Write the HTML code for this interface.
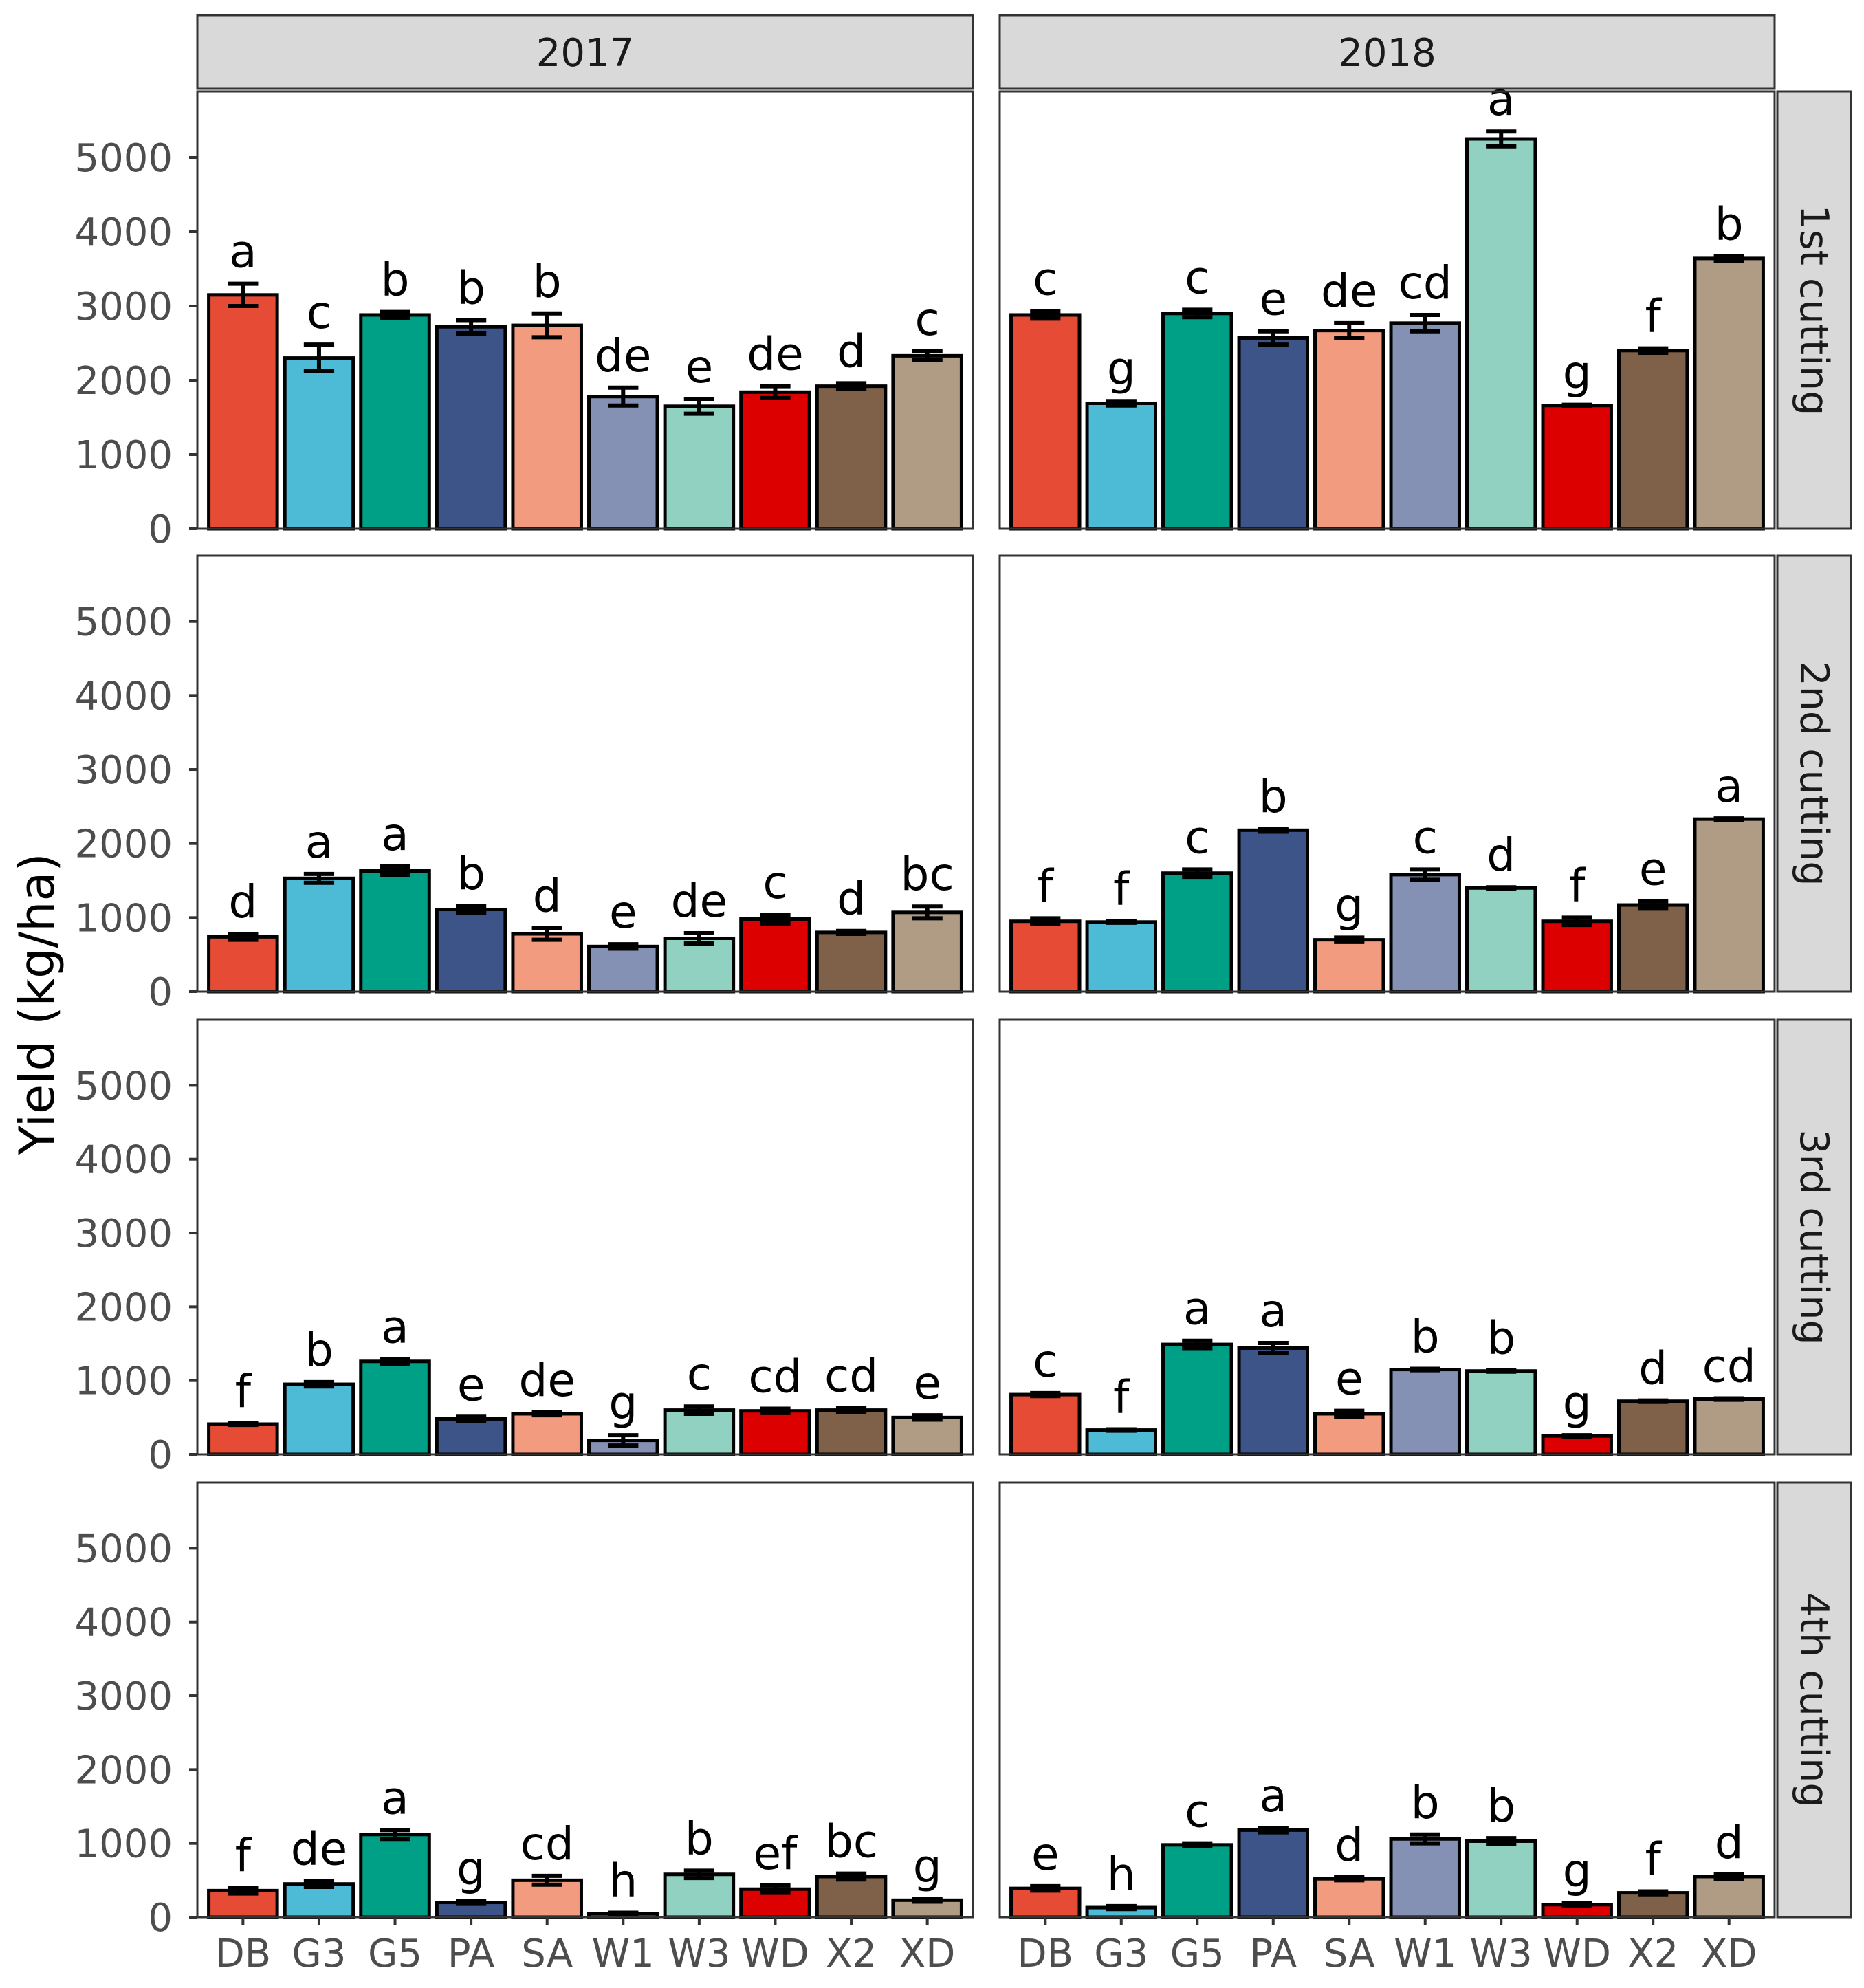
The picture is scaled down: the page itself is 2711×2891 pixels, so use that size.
<!DOCTYPE html>
<html><head><meta charset="utf-8"><style>
html,body{margin:0;padding:0;background:#fff}
svg{display:block;font-family:"DejaVu Sans","Liberation Sans",sans-serif}
</style></head><body>
<svg id="chart" width="2711" height="2891" viewBox="0 0 2711 2891" xmlns="http://www.w3.org/2000/svg"></svg>
<script>
const categories = ["DB","G3","G5","PA","SA","W1","W3","WD","X2","XD"];
const colors = ["#E64B35","#4DBBD5","#00A087","#3C5488","#F39B7F","#8491B4","#91D1C2","#DC0000","#7E6148","#B09C85"];
const years = ["2017","2018"];
const cuttings = ["1st cutting","2nd cutting","3rd cutting","4th cutting"];
const yTicks = [0,1000,2000,3000,4000,5000];
const c1y2017 = [3150,2300,2880,2720,2740,1780,1650,1840,1920,2330];
const c1y2017se = [150,180,40,90,160,120,100,80,40,60];
const c1y2017lt = ["a","c","b","b","b","de","e","de","d","c"];
const c1y2018 = [2880,1690,2900,2570,2670,2770,5250,1660,2400,3640];
const c1y2018se = [50,30,50,90,100,110,100,10,30,30];
const c1y2018lt = ["c","g","c","e","de","cd","a","g","f","b"];
const c2y2017 = [740,1530,1630,1110,780,610,720,980,800,1070];
const c2y2017se = [40,60,60,50,80,30,70,60,20,80];
const c2y2017lt = ["d","a","a","b","d","e","de","c","d","bc"];
const c2y2018 = [950,940,1600,2180,700,1580,1400,950,1170,2330];
const c2y2018se = [40,10,50,20,30,70,10,50,50,10];
const c2y2018lt = ["f","f","c","b","g","c","d","f","e","a"];
const c3y2017 = [410,950,1260,480,550,190,600,590,600,500];
const c3y2017se = [10,30,30,30,20,70,50,30,30,30];
const c3y2017lt = ["f","b","a","e","de","g","c","cd","cd","e"];
const c3y2018 = [810,330,1490,1440,550,1150,1130,250,720,750];
const c3y2018se = [20,10,50,70,40,10,10,10,10,10];
const c3y2018lt = ["c","f","a","a","e","b","b","g","d","cd"];
const c4y2017 = [360,450,1120,200,500,50,580,380,550,230];
const c4y2017se = [40,40,60,20,60,10,50,50,40,20];
const c4y2017lt = ["f","de","a","g","cd","h","b","ef","bc","g"];
const c4y2018 = [390,130,980,1180,520,1060,1030,170,330,550];
const c4y2018se = [30,20,20,30,20,60,40,20,20,30];
const c4y2018lt = ["e","h","c","a","d","b","b","g","f","d"];
const means = [[c1y2017,c1y2018],[c2y2017,c2y2018],[c3y2017,c3y2018],[c4y2017,c4y2018]];
const ses = [[c1y2017se,c1y2018se],[c2y2017se,c2y2018se],[c3y2017se,c3y2018se],[c4y2017se,c4y2018se]];
const letters = [[c1y2017lt,c1y2018lt],[c2y2017lt,c2y2018lt],[c3y2017lt,c3y2018lt],[c4y2017lt,c4y2018lt]];

const NS="http://www.w3.org/2000/svg";
const svg=document.getElementById('chart');
function mk(tag,attrs,parent){const e=document.createElementNS(NS,tag);for(const k in attrs)e.setAttribute(k,attrs[k]);(parent||svg).appendChild(e);return e;}
const colX=[[287,1415],[1454,2581]];
const rowY=[[133,769],[808,1442],[1483,2115],[2156,2788]];
const yMax=5889;
function xScale(c,i){const [l,r]=colX[c];const u=(r-l)/10.2;return l+(0.6+i)*u;}
function unitW(c){return (colX[c][1]-colX[c][0])/10.2;}
function yScale(r,v){const [t,b]=rowY[r];return b-(v/yMax)*(b-t);}

years.forEach((yr,c)=>{
  const g=mk('g',{});
  
  
  mk('rect',{x:colX[c][0],y:22,width:colX[c][1]-colX[c][0],height:107,fill:'#d9d9d9',stroke:'#333',"stroke-width":3},g);
  const t=mk('text',{x:(colX[c][0]+colX[c][1])/2,y:96,"text-anchor":"middle","font-size":56,fill:'#1a1a1a'},g);
  t.textContent=yr;
});
cuttings.forEach((ct,r)=>{
  const g=mk('g',{});
  
  
  mk('rect',{x:2585,y:rowY[r][0],width:107,height:rowY[r][1]-rowY[r][0],fill:'#d9d9d9',stroke:'#333',"stroke-width":3},g);
  const cy=(rowY[r][0]+rowY[r][1])/2;
  const t=mk('text',{x:2619,y:cy,"text-anchor":"middle","font-size":57,fill:'#1a1a1a',transform:`rotate(90 2619 ${cy})`},g);
  t.textContent=ct;
});

for(let r=0;r<4;r++){for(let c=0;c<2;c++){
  const g=mk('g',{});
  
  
  const [l,rr]=colX[c],[t,b]=rowY[r];
  mk('rect',{x:l,y:t,width:rr-l,height:b-t,fill:'#fff'},g);
  const w=unitW(c)*0.9, cap=unitW(c)*0.4;
  categories.forEach((cat,i)=>{
    const v=means[r][c][i], s=ses[r][c][i];
    const cx=xScale(c,i), y0=yScale(r,0), y1=yScale(r,v);
    const bar=mk('rect',{x:cx-w/2,y:y1,width:w,height:y0-y1,fill:colors[i],stroke:'#000',"stroke-width":5},g);
    
    
    const yt=yScale(r,v+s), yb=yScale(r,v-s);
    const eb=mk('path',{d:`M${cx-cap/2},${yt}H${cx+cap/2}M${cx},${yt}V${yb}M${cx-cap/2},${yb}H${cx+cap/2}`,stroke:'#000',"stroke-width":6,fill:'none'},g);
    
    
    const lt=mk('text',{x:cx,y:yt-24,"text-anchor":"middle","font-size":66,fill:'#000'},g);
    
    
    lt.textContent=letters[r][c][i];
  });
  mk('rect',{x:l,y:t,width:rr-l,height:b-t,fill:'none',stroke:'#333',"stroke-width":3},g);
  if(c===0){
    yTicks.forEach(v=>{
      const y=yScale(r,v);
      mk('line',{x1:l-12,x2:l,y1:y,y2:y,stroke:'#333',"stroke-width":4},g);
      const tl=mk('text',{x:l-36,y:y+20,"text-anchor":"end","font-size":56,fill:'#4d4d4d'},g);
      
      
      tl.textContent=v;
    });
  }
  if(r===3){
    categories.forEach((cat,i)=>{
      const x=xScale(c,i);
      mk('line',{x1:x,x2:x,y1:b,y2:b+12,stroke:'#333',"stroke-width":4},g);
      const xl=mk('text',{x:x,y:b+72,"text-anchor":"middle","font-size":56,fill:'#4d4d4d'},g);
      
      
      xl.textContent=cat;
    });
  }
}}
const yt=mk('text',{x:78,y:1460,"text-anchor":"middle","font-size":70,fill:'#000',transform:'rotate(-90 78 1460)'});


yt.textContent='Yield (kg/ha)';
</script>
</body></html>
